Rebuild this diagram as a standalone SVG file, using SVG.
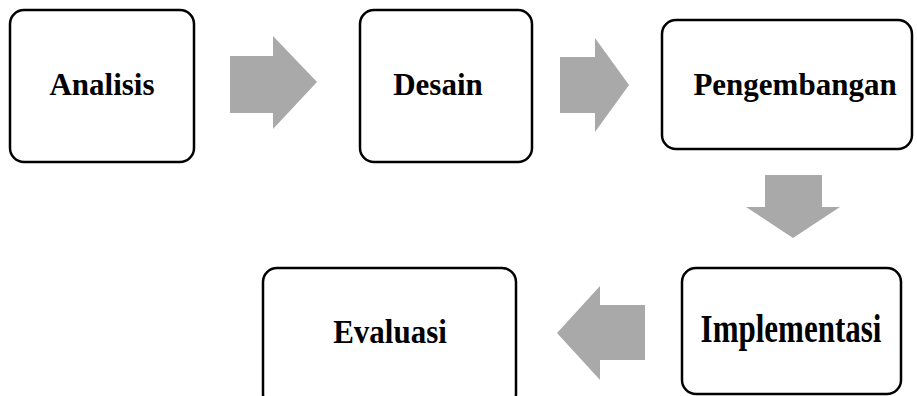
<svg xmlns="http://www.w3.org/2000/svg" width="917" height="396" viewBox="0 0 917 396">
<style>
.box{fill:#fff;stroke:#000;stroke-width:2.5}
.lbl{font-family:"Liberation Serif","Times New Roman",serif;font-weight:bold;font-size:31px;fill:#000;text-anchor:middle}
.arr{fill:#a9a9a9;stroke:none}
</style>
<rect width="917" height="396" fill="#fff"/>
<g id="connectors">
<polygon class="arr" points="230,56 273,56 273,36 317,82 273,129 273,113 230,113"/>
<polygon class="arr" points="560,57 595,57 595,38 629,85 595,132 595,113 560,113"/>
<polygon class="arr" points="765,175 822,175 822,207 840,207 793,238 746,207 765,207"/>
<polygon class="arr" points="645,305 600,305 600,286 557,333 600,380 600,360 645,360"/>
</g>
<g id="analisis">
<rect class="box" x="10" y="10" width="184" height="152" rx="14"/>
<text class="lbl" x="102" y="95">Analisis</text>
</g>
<g id="desain">
<rect class="box" x="360" y="10" width="172" height="152" rx="14"/>
<text class="lbl" x="438" y="95">Desain</text>
</g>
<g id="pengembangan">
<rect class="box" x="662" y="20" width="250" height="129" rx="14"/>
<text class="lbl" x="795" y="95">Pengembangan</text>
</g>
<g id="implementasi">
<rect class="box" x="682" y="268" width="219" height="126" rx="14"/>
<text class="lbl" transform="translate(791,342) scale(1,1.3)" x="0" y="0">Implementasi</text>
</g>
<g id="evaluasi">
<rect class="box" x="263" y="268" width="253" height="140" rx="14"/>
<text class="lbl" transform="translate(390,343) scale(1,1.1)" x="0" y="0">Evaluasi</text>
</g>
</svg>
